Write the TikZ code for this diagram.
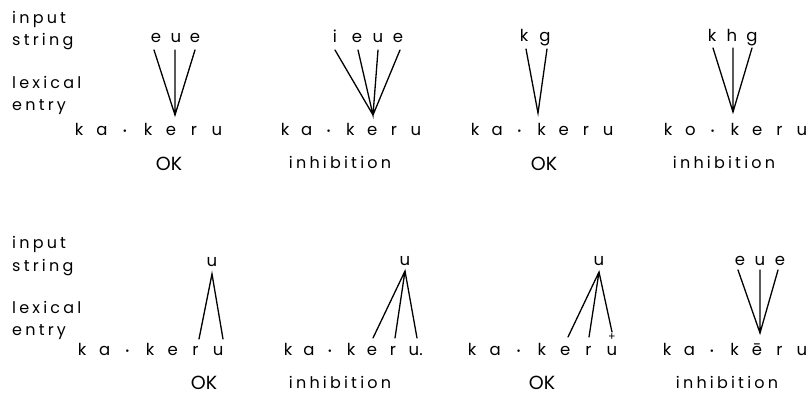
\documentclass[tikz,border=0pt]{standalone}
\usepackage{fontspec}
\setmainfont{Poppins}
\newfontfamily\spacedfont[LetterSpace=20]{Poppins}
\newcommand\middot{\raisebox{0.5pt}{\fontsize{10}{10}\selectfont •}}
\tikzset{
  lbl/.style={anchor=base west, inner sep=0pt, font=\spacedfont\fontsize{16}{16}\selectfont},
  glyph/.style={anchor=base, inner sep=0pt, font=\fontsize{16.5}{16.5}\selectfont},
  inp/.style={anchor=base, inner sep=0pt, font=\fontsize{16.5}{16.5}\selectfont},
  res/.style={anchor=base, inner sep=0pt, font=\spacedfont\fontsize{16}{16}\selectfont},
  okres/.style={anchor=base, inner sep=0pt, font=\fontsize{19}{19}\selectfont},
  link/.style={line width=1.3pt, line cap=round, line join=miter},
}
\newcommand\kkrow[5]{%
  \foreach \c [count=\i from 0] in {#5} \node[glyph] (#1-\i) at ({#2+\i*#3},#4) {\c};}
\begin{document}
\begin{tikzpicture}[x=1pt,y=-1pt]
\useasboundingbox (0,0) rectangle (809,397);
% ---------- left labels ----------
\node[lbl] (li1) at (12,23) {input};
\node[lbl] (ls1) at (12,45) {string};
\node[lbl] (ll1) at (12,88) {lexical};
\node[lbl] (le1) at (12,110) {entry};
\node[lbl] (li2) at (12,248) {input};
\node[lbl] (ls2) at (12,271) {string};
\node[lbl] (ll2) at (12,313) {lexical};
\node[lbl] (le2) at (12,335) {entry};
% ---------- top row: lexical entries ----------
\kkrow{ta}{79}{23}{135}{k,a,\middot,k,e,r,u}
\kkrow{tb}{285}{21.8}{135}{k,a,\middot,k,e,r,u}
\kkrow{tc}{475}{22.2}{135}{k,a,\middot,k,e,r,u}
\kkrow{td}{668}{22.3}{135}{k,o,\middot,k,e,r,u}
% ---------- top row: input strings ----------
\node[inp] (ia1) at (156,42) {e};
\node[inp] (ia2) at (176,42) {u};
\node[inp] (ia3) at (195,42) {e};
\node[inp] (ib1) at (335,42) {i};
\node[inp] (ib2) at (357,42) {e};
\node[inp] (ib3) at (378,42) {u};
\node[inp] (ib4) at (398,42) {e};
\node[inp] (ic1) at (524,41) {k};
\node[inp] (ic2) at (545,41) {g};
\node[inp] (id1) at (712,41) {k};
\node[inp] (id2) at (732,41) {h};
\node[inp] (id3) at (752,41) {g};
% ---------- top row: connectors ----------
\coordinate (ta-ap) at (175,115);
\coordinate (ta-s1) at (154,50);
\coordinate (ta-s2) at (175,50);
\coordinate (ta-s3) at (195,50);
\draw[link] (ta-s1) -- (ta-ap) -- (ta-s3) (ta-s2) -- (ta-ap);
\coordinate (tb-ap) at (373,115);
\coordinate (tb-s1) at (335,50);
\coordinate (tb-s2) at (358,50);
\coordinate (tb-s3) at (378,50);
\coordinate (tb-s4) at (400,50);
\draw[link] (tb-s1) -- (tb-ap) -- (tb-s4) (tb-s2) -- (tb-ap) -- (tb-s3);
\coordinate (tc-ap) at (538,113);
\coordinate (tc-s1) at (526,49);
\coordinate (tc-s2) at (547,49);
\draw[link] (tc-s1) -- (tc-ap) -- (tc-s2);
\coordinate (td-ap) at (733,112);
\coordinate (td-s1) at (713,48);
\coordinate (td-s2) at (733,48);
\coordinate (td-s3) at (752,48);
\draw[link] (td-s1) -- (td-ap) -- (td-s3) (td-s2) -- (td-ap);
% ---------- top row: verdicts ----------
\node[okres] (ra) at (169,170) {OK};
\node[res] (rb) at (340,168) {inhibition};
\node[okres] (rc) at (544,170) {OK};
\node[res] (rd) at (724,168) {inhibition};
% ---------- bottom row: lexical entries ----------
\kkrow{ba}{82}{22.7}{355}{k,a,\middot,k,e,r,u}
\kkrow{bb}{288}{21}{355}{k,a,\middot,k,e,r,u\rlap{.}}
\kkrow{bc}{472}{23.3}{355}{k,a,\middot,k,e,r,u}
\kkrow{bd}{667}{22.5}{355}{k,a,\middot,k,ē,r,u}
\node[inner sep=0pt, font=\fontsize{11}{11}\selectfont] (plus) at (612,337) {+};
% ---------- bottom row: input strings ----------
\node[inp] (ja1) at (212,266) {u};
\node[inp] (jb1) at (405,265) {u};
\node[inp] (jc1) at (599,265) {u};
\node[inp] (jd1) at (740,265) {e};
\node[inp] (jd2) at (760,265) {u};
\node[inp] (jd3) at (780,265) {e};
% ---------- bottom row: connectors ----------
\coordinate (ba-ap) at (212,274);
\coordinate (ba-e1) at (199,339);
\coordinate (ba-e2) at (223,339);
\draw[link] (ba-e1) -- (ba-ap) -- (ba-e2);
\coordinate (bb-ap) at (405,271);
\coordinate (bb-e1) at (373,338);
\coordinate (bb-e2) at (395,338);
\coordinate (bb-e3) at (417,338);
\draw[link] (bb-e1) -- (bb-ap) -- (bb-e3) (bb-e2) -- (bb-ap);
\coordinate (bc-ap) at (599,272);
\coordinate (bc-e1) at (568,337);
\coordinate (bc-e2) at (589,337);
\coordinate (bc-e3) at (612,332);
\draw[link] (bc-e1) -- (bc-ap) -- (bc-e3) (bc-e2) -- (bc-ap);
\coordinate (bd-ap) at (760,333);
\coordinate (bd-s1) at (738,270);
\coordinate (bd-s2) at (760,270);
\coordinate (bd-s3) at (778,270);
\draw[link] (bd-s1) -- (bd-ap) -- (bd-s3) (bd-s2) -- (bd-ap);
% ---------- bottom row: verdicts ----------
\node[okres] (sa) at (204,389) {OK};
\node[res] (sb) at (340,388) {inhibition};
\node[okres] (sc) at (542,389) {OK};
\node[res] (sd) at (727,388) {inhibition};
\end{tikzpicture}
\end{document}
